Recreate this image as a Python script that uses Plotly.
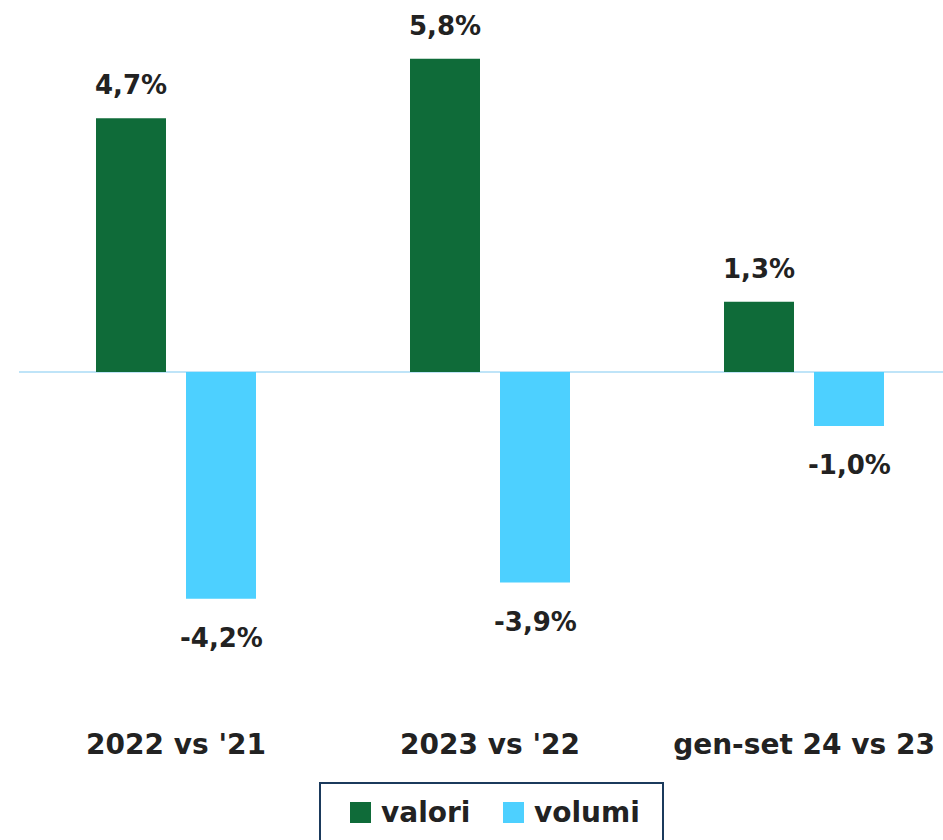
import plotly.graph_objects as go

categories = ["2022 vs '21", "2023 vs '22", "gen-set 24 vs 23"]
valori = [4.7, 5.8, 1.3]
volumi = [-4.2, -3.9, -1.0]
series_names = ["valori", "volumi"]
colors = ["#0F6B39", "#4DD0FF"]

FONT = "DejaVu Sans"
TXT = "#222222"

W, H = 943, 840
ML, MR, MT, MB = 19, 0, 0, 115
PW, PH = W - ML - MR, H - MT - MB

fig = go.Figure()
for name, vals, col in zip(series_names, [valori, volumi], colors):
    fig.add_trace(go.Bar(name=name, x=categories, y=vals, marker_color=col,
                         marker_line_width=0, showlegend=False))

def fmt(v):
    return f"{v:.1f}".replace(".", ",") + "%"

annotations = []
for vals, xs in [(valori, -45), (volumi, 45)]:
    for c, v in zip(categories, vals):
        annotations.append(dict(
            x=c, y=v, xref="x", yref="y", text="<b>" + fmt(v) + "</b>",
            showarrow=False, xshift=xs,
            yanchor="bottom" if v >= 0 else "top",
            yshift=16 if v >= 0 else -22,
            font=dict(family=FONT, size=26, color=TXT)))

# manual legend (paper coords)
def px_x(x):
    return (x - ML) / PW

def px_y(y):
    return (MT + PH - y) / PH

shapes = [
    dict(type="rect", xref="paper", yref="paper", x0=px_x(320), x1=px_x(663),
         y0=px_y(783), y1=px_y(870), line=dict(color="#1B3A5C", width=2),
         fillcolor="rgba(0,0,0,0)"),
]
leg_items = [(350, "valori", colors[0]), (503, "volumi", colors[1])]
for lx, name, col in leg_items:
    shapes.append(dict(type="rect", xref="paper", yref="paper",
                       x0=px_x(lx), x1=px_x(lx + 21), y0=px_y(802), y1=px_y(823),
                       line=dict(width=0), fillcolor=col))
    annotations.append(dict(x=px_x(lx + 29), y=px_y(812), xref="paper", yref="paper",
                            text="<b>" + name + "</b>", showarrow=False,
                            xanchor="left", yanchor="middle",
                            font=dict(family=FONT, size=28, color=TXT)))

ymax = (372 - MT) / 54.0
ymin = -(MT + PH - 372) / 54.0
xmax = -0.5 + PW / 314.0

fig.update_layout(
    width=W, height=H,
    margin=dict(l=ML, r=MR, t=MT, b=MB, autoexpand=False),
    paper_bgcolor="white", plot_bgcolor="white",
    barmode="group", bargap=1 - 180 / 314, bargroupgap=20 / 90,
    separators=",.",
    showlegend=False,
    font=dict(family=FONT, color=TXT),
    xaxis=dict(range=[-0.5, xmax], showgrid=False, showline=False, ticks="",
               tickfont=dict(family=FONT, size=28, color=TXT),
               ticktext=["<b>" + c + "</b>" for c in categories],
               tickvals=categories, tickmode="array"),
    yaxis=dict(range=[ymin, ymax], showgrid=False, showticklabels=False,
               zeroline=True, zerolinecolor="#BFE4F8", zerolinewidth=2),
    shapes=shapes,
    annotations=annotations,
)

fig.write_html("out.html",
               config={"displayModeBar": False},
               post_script="document.body.style.margin='0';document.body.style.overflow='hidden';")
